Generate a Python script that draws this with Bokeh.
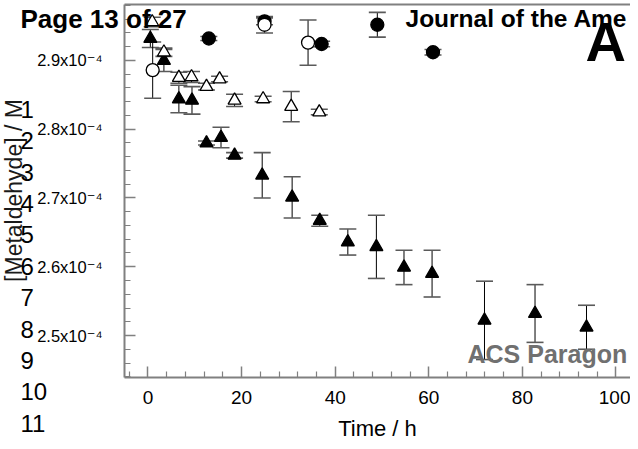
import math
from bokeh.plotting import figure
from bokeh.models import (ColumnDataSource, Whisker, TeeHead, FixedTicker,
                          Range1d, Label, LinearAxis)
from bokeh.embed import file_html
from bokeh.resources import INLINE

# ---- data (time in h, concentration in units of 1e-4 M) ----
tri_filled_t = [0.5, 3.4, 6.6, 9.4, 12.5, 15.6, 18.5, 24.4, 30.8, 36.7, 42.7, 48.8, 54.7, 60.7, 71.9, 82.7, 93.7]
tri_filled_c = [2.932, 2.900, 2.844, 2.842, 2.780, 2.788, 2.762, 2.733, 2.701, 2.667, 2.636, 2.629, 2.599, 2.590, 2.522, 2.532, 2.512]
tri_filled_e = [0.013, 0.016, 0.020, 0.020, 0.003, 0.015, 0.004, 0.033, 0.030, 0.008, 0.019, 0.046, 0.025, 0.034, 0.057, 0.042, 0.032]

tri_open_t = [0.9, 3.4, 6.6, 9.3, 12.5, 15.3, 18.5, 24.6, 30.6, 36.6]
tri_open_c = [2.956, 2.912, 2.875, 2.876, 2.862, 2.873, 2.842, 2.844, 2.833, 2.825]
tri_open_e = [0.007, 0.006, 0.008, 0.008, 0.005, 0.004, 0.009, 0.004, 0.022, 0.004]

circ_filled_t = [13.0, 24.9, 37.1, 49.0, 60.9]
circ_filled_c = [2.932, 2.957, 2.924, 2.952, 2.912]
circ_filled_e = [0.003, 0.005, 0.004, 0.018, 0.004]

circ_open_t = [1.0, 24.9, 34.2]
circ_open_c = [2.886, 2.952, 2.926]
circ_open_e = [0.041, 0.012, 0.033]

UNIT = 1e-4
x_ticks = [0, 20, 40, 60, 80, 100]
y_ticks = [2.5e-4, 2.6e-4, 2.7e-4, 2.8e-4, 2.9e-4]
y_tick_labels = ["2.5x10\u207b\u2074", "2.6x10\u207b\u2074", "2.7x10\u207b\u2074",
                 "2.8x10\u207b\u2074", "2.9x10\u207b\u2074"]
x_label = "Time / h"
y_label = "[Metaldehyde] / M"
line_numbers = ["1", "2", "3", "4", "5", "6", "7", "8", "9", "10", "11", "12"]
header_left = "Page 13 of 27"
header_right = "Journal of the Ame"
panel_letter = "A"
watermark = "ACS Paragon"

FONT = "Liberation Sans, DejaVu Sans"
AXIS_GRAY = "#808080"

# plot area limits (axis positions) and full-canvas ranges
X_AXIS_LEFT, X_END = -5.021, 103.10
Y_AXIS_BOTTOM, Y_AXIS_TOP = 2.43891e-4, 2.98145e-4

p = figure(width=630, height=441, output_backend="svg", toolbar_location=None,
           x_range=Range1d(-31.517, X_END), y_range=Range1d(2.34582e-4, 2.98727e-4),
           min_border_left=0, min_border_right=0, min_border_top=0, min_border_bottom=0)
p.title.visible = False
p.outline_line_color = None
p.grid.visible = False
p.background_fill_color = "white"
p.border_fill_color = "white"

xa = p.xaxis[0]
ya = p.yaxis[0]
xa.fixed_location = Y_AXIS_BOTTOM
xa.bounds = (X_AXIS_LEFT, X_END)
ya.fixed_location = X_AXIS_LEFT
ya.bounds = (Y_AXIS_BOTTOM, Y_AXIS_TOP)

xa.ticker = FixedTicker(ticks=x_ticks, minor_ticks=[v for v in range(-4, 105, 4) if v % 20 != 0])
ya.ticker = FixedTicker(ticks=y_ticks,
                        minor_ticks=[round(2.44 + 0.02 * i, 2) * UNIT for i in range(28)
                                     if (i + 2) % 5 != 0])
ya.major_label_overrides = {t: s for t, s in zip(y_ticks, y_tick_labels)}

for ax in (xa, ya):
    ax.axis_line_color = AXIS_GRAY
    ax.axis_line_width = 2
    ax.major_tick_line_color = AXIS_GRAY
    ax.major_tick_line_width = 1.5
    ax.minor_tick_line_color = AXIS_GRAY
    ax.minor_tick_line_width = 1.2
    ax.major_tick_in = 11
    ax.major_tick_out = 0
    ax.minor_tick_in = 6
    ax.minor_tick_out = 0
    ax.major_label_text_color = "black"
    ax.major_label_text_font = FONT

xa.major_label_text_font_size = "19px"
xa.major_label_standoff = 13
xa.axis_label = x_label
xa.axis_label_text_font = FONT
xa.axis_label_text_font_size = "22px"
xa.axis_label_text_font_style = "normal"
xa.axis_label_text_color = "black"
xa.axis_label_standoff = 9

ya.major_label_text_font_size = "16.5px"
ya.major_label_standoff = 22

# top frame line (an axis without ticks or labels)
top_axis = LinearAxis(fixed_location=Y_AXIS_TOP,
                      bounds=(X_AXIS_LEFT, X_END), ticker=FixedTicker(ticks=[]),
                      axis_line_color=AXIS_GRAY, axis_line_width=2,
                      major_tick_line_color=None, minor_tick_line_color=None,
                      major_label_text_font_size="0px")
p.add_layout(top_axis, "above")


def add_series(t, c, e, marker, size, fill):
    src = ColumnDataSource(dict(
        t=t,
        y=[v * UNIT for v in c],
        upper=[(v + d) * UNIT for v, d in zip(c, e)],
        lower=[(v - d) * UNIT for v, d in zip(c, e)],
    ))
    w = Whisker(source=src, base="t", upper="upper", lower="lower", dimension="height",
                line_color="black", line_width=1,
                upper_head=TeeHead(size=17, line_color="#5a5a5a", line_width=1.6),
                lower_head=TeeHead(size=17, line_color="#5a5a5a", line_width=1.6))
    p.add_layout(w)
    p.scatter("t", "y", source=src, marker=marker, size=size,
              fill_color=fill, line_color="black", line_width=1.3)


add_series(tri_filled_t, tri_filled_c, tri_filled_e, "triangle", 13, "black")
add_series(tri_open_t, tri_open_c, tri_open_e, "triangle", 13, "white")
add_series(circ_filled_t, circ_filled_c, circ_filled_e, "circle", 13, "black")
add_series(circ_open_t, circ_open_c, circ_open_e, "circle", 13, "white")


def add_text(x, y, text, size, bold=False, color="black", angle=0.0, align="left"):
    p.add_layout(Label(x=x, y=y, x_units="canvas", y_units="canvas", angle=angle,
                       text=text, text_font=FONT, text_font_size=f"{size}px",
                       text_font_style="bold" if bold else "normal", text_color=color,
                       text_align=align, text_baseline="middle"))


# y axis title
add_text(13, 190, y_label, 23, color="#1a1a1a", angle=math.pi / 2, align="center")

# page decorations overlaid on the figure
for i, s in enumerate(line_numbers):
    add_text(20, 108.7 + 31.4 * i, s, 24)

add_text(20, 18, header_left, 26, bold=True)
add_text(405, 18, header_right, 24.5, bold=True)
add_text(585, 40.6, panel_letter, 56, bold=True)
add_text(467, 353, watermark, 25, bold=True, color="#707070")

open("out.html", "w").write(file_html(p, INLINE))
